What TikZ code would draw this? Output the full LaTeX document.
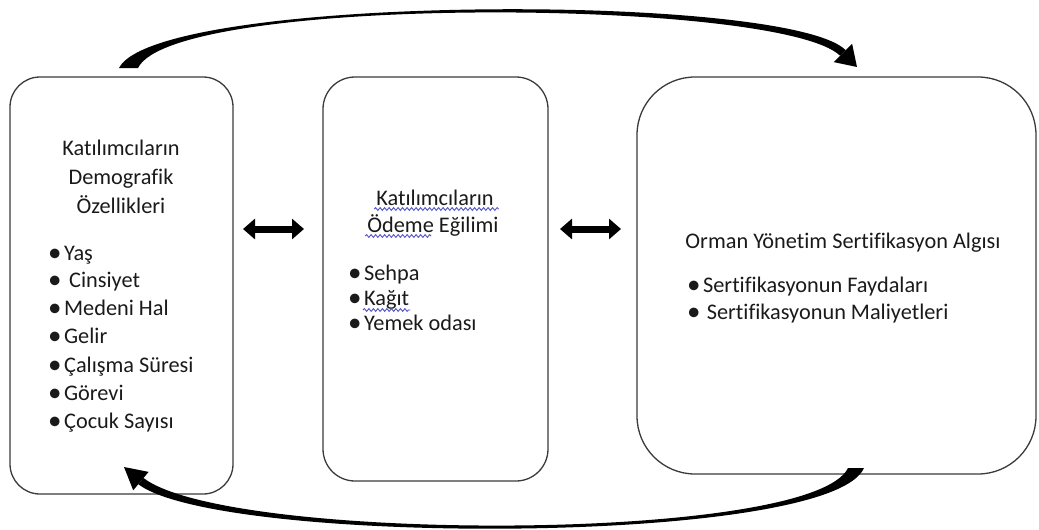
\documentclass[tikz,border=0pt]{standalone}
\usepackage{fontspec}
\setmainfont{Carlito}[Ligatures=NoCommon]
\usetikzlibrary{arrows.meta,decorations.pathmorphing}

\definecolor{kutucizgi}{HTML}{3A3A3A}
\definecolor{metin}{HTML}{1A1A1A}
\definecolor{imla}{HTML}{5252C8}

\newcommand{\madde}[1]{\raisebox{-1.5pt}[0pt][0pt]{\fontsize{27}{29}\selectfont\textbullet}\hspace{2.5pt}#1}

\tikzset{
  kutu/.style={draw=kutucizgi, line width=1.3pt, rectangle, inner sep=0pt},
  yazi/.style={anchor=base, text=metin, inner sep=0pt,
    font=\fontsize{22.3}{29}\selectfont},
  maddeyazi/.style={yazi, anchor=base west},
  ciftok/.style={line width=7pt,
    {Triangle[length=12pt,width=20pt]}-{Triangle[length=12pt,width=20pt]}},
  dalga/.style={draw=imla, line width=0.9pt, decorate,
    decoration={snake, amplitude=1.4pt, segment length=4.5pt}},
}

\begin{document}
\begin{tikzpicture}[x=1pt,y=-1pt]
  \useasboundingbox (0,0) rectangle (1039,530);

% BOXES =======================================================================
  \node[kutu, rounded corners=30pt, minimum width=223pt, minimum height=417pt] (demo) at (121.5,285.5) {};
  \node[kutu, rounded corners=32pt, minimum width=225pt, minimum height=404pt] (odeme) at (435.5,279) {};
  \node[kutu, rounded corners=58pt, minimum width=399pt, minimum height=397pt] (orman) at (836.5,275.5) {};

% LEFT BOX TEXT ===============================================================
  \node[yazi] (demo1) at (121,155) {Katılımcıların};
  \node[yazi] (demo2) at (121,184) {Demografik};
  \node[yazi] (demo3) at (121,213) {Özellikleri};

  \node[maddeyazi] (yas)     at (48,260) {\madde{Yaş}};
  \node[maddeyazi] (cins)    at (48,287) {\madde{\ Cinsiyet}};
  \node[maddeyazi] (medeni)  at (48,315) {\madde{Medeni Hal}};
  \node[maddeyazi] (gelir)   at (48,343) {\madde{Gelir}};
  \node[maddeyazi] (calisma) at (48,372) {\madde{Çalışma Süresi}};
  \node[maddeyazi] (gorev)   at (48,400) {\madde{Görevi}};
  \node[maddeyazi] (cocuk)   at (48,428) {\madde{Çocuk Sayısı}};

% MIDDLE BOX TEXT =============================================================
  \node[yazi] (odeme1) at (435,205) {Katılımcıların};
  \node[yazi] (odeme2) at (433,232) {Ödeme Eğilimi};

  \node[maddeyazi] (sehpa) at (348,280) {\madde{Sehpa}};
  \node[maddeyazi] (kagit) at (348,305) {\madde{Kağıt}};
  \node[maddeyazi] (yemek) at (348,330) {\madde{Yemek odası}};

  % spell check lines
  \draw[dalga] ([xshift=-2pt,yshift=-4pt]odeme1.base west) -- ([xshift=5pt,yshift=-4pt]odeme1.base east);
  \draw[dalga] ([xshift=-2pt,yshift=-4pt]odeme2.base west) -- ([xshift=64pt,yshift=-4pt]odeme2.base west);
  \draw[dalga] ([xshift=15pt,yshift=-5pt]kagit.base west) -- ([xshift=1pt,yshift=-5pt]kagit.base east);

% RIGHT BOX TEXT ==============================================================
  \node[yazi] (orman1) at (843,248) {Orman Yönetim Sertifikasyon Algısı};

  \node[maddeyazi] (fayda)   at (687,292) {\madde{Sertifikasyonun Faydaları}};
  \node[maddeyazi] (maliyet) at (687,319) {\madde{\,Sertifikasyonun Maliyetleri}};

% DOUBLE ARROWS ===============================================================
  \coordinate (ok1a) at (243,229);
  \coordinate (ok1b) at (304,229);
  \coordinate (ok2a) at (560,229);
  \coordinate (ok2b) at (621,229);
  \draw[ciftok] (ok1a) to (ok1b);
  \draw[ciftok] (ok2a) to (ok2b);

% CURVED ARROWS ===============================================================
  % top: left box -> right box
  \fill[black] (119,68) .. controls (157,-6) and (786,-8) .. (845.7,50.1)
    -- (840.1,55.7) .. controls (780,-2) and (174,-6) .. (138,68) -- cycle;
  \fill[black] (852.1,43.7) -- (857,67) -- (833.7,62.1) -- cycle;

  % bottom: right box -> left box
  \fill[black] (864,468) .. controls (830,546) and (220,546) .. (138.3,484.2)
    -- (143.5,478) .. controls (228,543) and (812,543) .. (848,468) -- cycle;
  \fill[black] (148.6,471.9) -- (124,467) -- (133.2,490.3) -- cycle;

\end{tikzpicture}
\end{document}
